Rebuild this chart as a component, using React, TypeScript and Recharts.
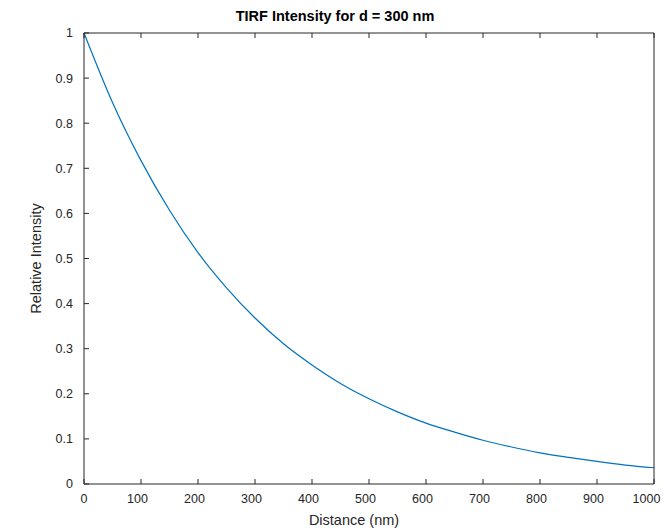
import React from "react";
import { LineChart, Line, XAxis, YAxis, Label } from "recharts";

// distance from the coverslip (nm) and relative intensity
const distances = [0, 50, 100, 150, 200, 250, 300, 350, 400, 450, 500, 550, 600, 650, 700, 750, 800, 850, 900, 950, 1000];
const intensity = [1.0, 0.846, 0.717, 0.607, 0.513, 0.435, 0.368, 0.311, 0.264, 0.223, 0.189, 0.16, 0.135, 0.115, 0.097, 0.082, 0.069, 0.059, 0.05, 0.042, 0.036];
const xTicks = [0, 100, 200, 300, 400, 500, 600, 700, 800, 900, 1000];
const yTicks = [0, 0.1, 0.2, 0.3, 0.4, 0.5, 0.6, 0.7, 0.8, 0.9, 1];

const chartData = distances.map((d, i) => ({ d, v: intensity[i] }));

const axisColor = "#262626";
const family = "'Liberation Sans', Arial, sans-serif";
const tickFont = { fontSize: 12.5, fill: axisColor, fontFamily: family };
const labelFont = { fontSize: 14.5, fill: axisColor, fontFamily: family };
const blank = () => "";

// x labels sit a little left of their ticks in the original (except 0)
const XTick = (props: any) => {
  const { x, y, payload } = props;
  const shift = payload.value === 0 ? 0 : -3.5;
  return (
    <text x={x + shift} y={y} dy="0.71em" textAnchor="middle" {...tickFont}>
      {payload.value}
    </text>
  );
};

export default function App() {
  return (
    <div style={{ position: "absolute", left: 0, top: 0, width: 666, height: 530, background: "#fff" }}>
      <LineChart width={666} height={530} data={chartData} margin={{ top: 32, right: 11, bottom: 0, left: 24 }}>
        <text x={335} y={21} textAnchor="middle" fontWeight="bold" fontSize={14.5} fill="#000" fontFamily={family}>
          TIRF Intensity for d = 300 nm
        </text>
        <XAxis
          dataKey="d"
          type="number"
          domain={[0, 1000]}
          ticks={xTicks}
          height={46}
          stroke={axisColor}
          tickSize={-5}
          tickMargin={15}
          tick={<XTick />}
        >
          <Label value="Distance (nm)" position="insideBottom" offset={5} dx={-15} style={labelFont} />
        </XAxis>
        <XAxis
          xAxisId="top"
          orientation="top"
          dataKey="d"
          type="number"
          domain={[0, 1000]}
          ticks={xTicks}
          height={1}
          stroke={axisColor}
          tickSize={-5}
          tickFormatter={blank}
        />
        <YAxis
          type="number"
          domain={[0, 1]}
          ticks={yTicks}
          width={60}
          stroke={axisColor}
          tickSize={-5}
          tickMargin={16}
          tick={tickFont}
        >
          <Label value="Relative Intensity" angle={-90} position="center" dx={-18} style={{ ...labelFont, textAnchor: "middle" }} />
        </YAxis>
        <YAxis
          yAxisId="right"
          orientation="right"
          type="number"
          domain={[0, 1]}
          ticks={yTicks}
          width={1}
          stroke={axisColor}
          tickSize={-5}
          tickFormatter={blank}
        />
        <Line
          type="monotone"
          dataKey="v"
          stroke="#0072BD"
          strokeWidth={1.2}
          dot={false}
          isAnimationActive={false}
        />
      </LineChart>
    </div>
  );
}
